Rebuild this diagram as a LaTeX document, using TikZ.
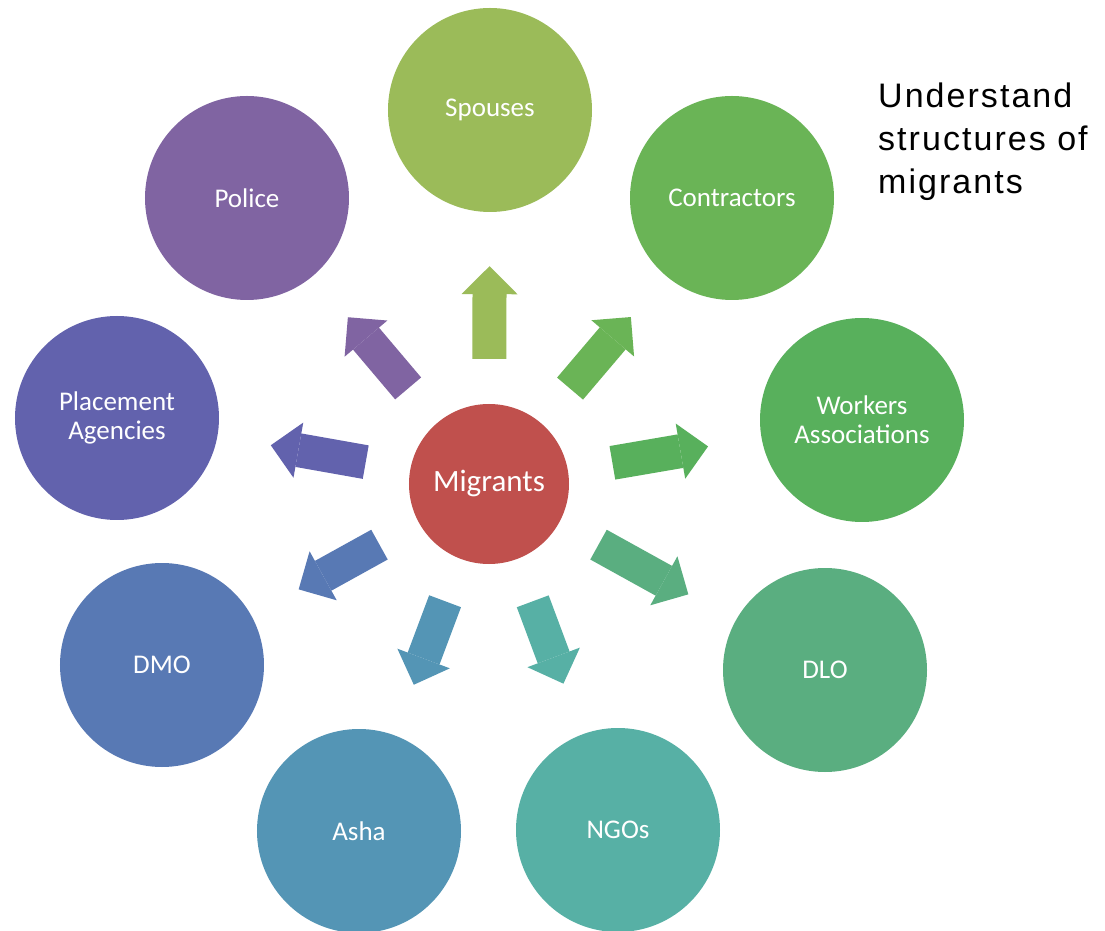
\documentclass[tikz,border=0pt]{standalone}
\usepackage{fontspec}
\usetikzlibrary{arrows.meta}
\newfontfamily\labelfont{Carlito}
\newfontfamily\titlefont[LetterSpace=6]{Liberation Sans}

\definecolor{cMig}{HTML}{C0504D}
\definecolor{cSpo}{HTML}{9BBB59}
\definecolor{cCon}{HTML}{6AB456}
\definecolor{cWor}{HTML}{58B05C}
\definecolor{cDlo}{HTML}{5AAE80}
\definecolor{cNgo}{HTML}{57B0A5}
\definecolor{cAsh}{HTML}{5495B5}
\definecolor{cDmo}{HTML}{5879B4}
\definecolor{cPla}{HTML}{6262AD}
\definecolor{cPol}{HTML}{8064A2}

\begin{document}
\begin{tikzpicture}[x=1pt, y=1pt,
    bubble/.style={circle, minimum size=204pt, inner sep=0pt, align=center, text=white,
        font=\labelfont\fontsize{27}{29}\selectfont},
    link/.style={line width=34pt, -{Triangle[width=56pt, length=28pt, line width=0pt]},
        shorten <=45pt, shorten >=54pt}]
    \path[use as bounding box, fill=white] (-489,-447) rectangle (616,484);

    \node[bubble, fill=cMig, minimum size=160pt, font=\labelfont\fontsize{31}{33}\selectfont] (mig) at (0,0) {Migrants};

    \node[bubble, fill=cSpo] (spo) at (1,374) {Spouses};
    \node[bubble, fill=cCon] (con) at (243,286) {Contractors};
    \node[bubble, fill=cWor] (wor) at (373,64) {Workers\\Associations};
    \node[bubble, fill=cDlo] (dlo) at (336,-186) {DLO};
    \node[bubble, fill=cNgo] (ngo) at (129,-346) {NGOs};
    \node[bubble, fill=cAsh] (ash) at (-130,-347) {Asha};
    \node[bubble, fill=cDmo] (dmo) at (-327,-181) {DMO};
    \node[bubble, fill=cPla] (pla) at (-372,66) {Placement\\Agencies};
    \node[bubble, fill=cPol] (pol) at (-242,286) {Police};

    \path (mig) edge[link, draw=cSpo] (spo);
    \path (mig) edge[link, draw=cCon] (con);
    \path (mig) edge[link, draw=cWor] (wor);
    \path (mig) edge[link, draw=cDlo] (dlo);
    \path (mig) edge[link, draw=cNgo] (ngo);
    \path (mig) edge[link, draw=cAsh] (ash);
    \path (mig) edge[link, draw=cDmo] (dmo);
    \path (mig) edge[link, draw=cPla] (pla);
    \path (mig) edge[link, draw=cPol] (pol);

    % heading at the top right
    \node[anchor=north west, inner sep=0pt, align=left,
        font=\titlefont\fontsize{34}{43}\selectfont] (title) at (389,401)
        {Understand\\structures of\\migrants};
\end{tikzpicture}
\end{document}
